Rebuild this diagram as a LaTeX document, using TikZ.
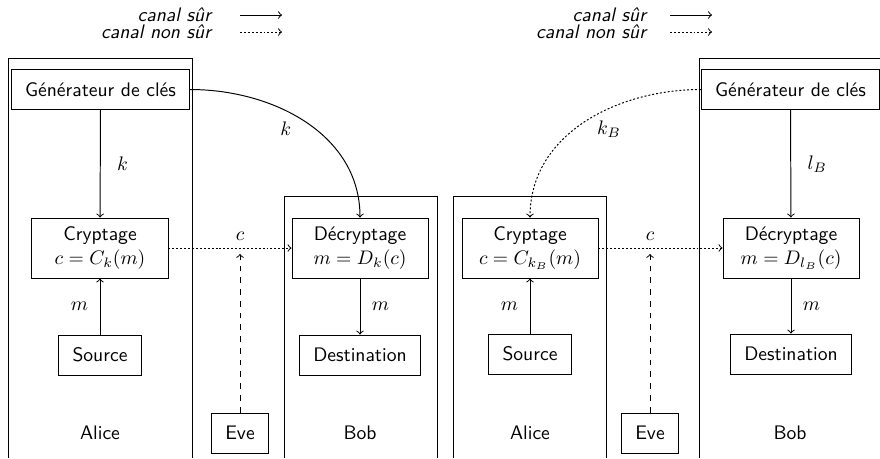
\documentclass[tikz,border=0pt]{standalone}
\usepackage{amsmath}
\usetikzlibrary{positioning}

\begin{document}
\begin{tikzpicture}[x=0.5102pt, y=-0.5102pt, line width=0.5pt,
        every node/.style ={align=center, font=\sffamily},
        Box/.style   ={draw, inner xsep=7pt, inner ysep=4pt, minimum height=20.4pt},
        Calc/.style  ={Box, minimum width=69.4pt, minimum height=30.6pt},
        Legend/.style={anchor=east, font=\sffamily\itshape},
        safe/.style  ={->},
        unsafe/.style={->, dash pattern=on 1pt off 1pt},
        spy/.style   ={->, dashed, shorten >=3pt},
    ]
\clip (0,0) rectangle (880,458);

% Legend
\node[Legend] (safeL) at (218,15) {canal sûr};
\node[Legend] (unsafeL) at (218,32) {canal non sûr};
\coordinate (safeLa) at (240,15);   \coordinate (safeLb) at (282,15);
\coordinate (unsafeLa) at (240,32); \coordinate (unsafeLb) at (282,32);
\draw[safe] (safeLa) -- (safeLb);
\draw[unsafe] (unsafeLa) -- (unsafeLb);

\node[Legend] (safeR) at (653,15) {canal sûr};
\node[Legend] (unsafeR) at (653,32) {canal non sûr};
\coordinate (safeRa) at (670,15);   \coordinate (safeRb) at (712,15);
\coordinate (unsafeRa) at (670,32); \coordinate (unsafeRb) at (712,32);
\draw[safe] (safeRa) -- (safeRb);
\draw[unsafe] (unsafeRa) -- (unsafeRb);

% Frames
\draw (8,458) |- (192,58) -- (192,458);
\draw (284,458) |- (437,196) -- (437,458);
\draw (453,458) |- (606,196) -- (606,458);
\draw (699,458) |- (890,58) -- (890,458);

% Nodes, symmetric key
\node[Box] (genL) at (100.5,89.5) {Générateur de clés};
\node[Calc] (cryptL) at (100,248) {Cryptage\\ $c=C_k(m)$};
\node[Box, below=28.6pt of cryptL] (srcL) {Source};
\node[Calc] (decL) at (360,248) {Décryptage\\ $m=D_k(c)$};
\node[Box, below=28.6pt of decL] (destL) {Destination};
\node[Box] (eveL) at (240,433) {Eve};
\node (aliceL) at (100,433) {Alice};
\node (bobL) at (360,433) {Bob};
\coordinate (tapL) at (eveL |- cryptL.east);

% Nodes, public key
\node[Box] (genR) at (790.5,89.5) {Générateur de clés};
\node[Calc] (cryptR) at (530,248) {Cryptage\\ $c=C_{k_B}(m)$};
\node[Box, below=28.1pt of cryptR] (srcR) {Source};
\node[Calc] (decR) at (791,248) {Décryptage\\ $m=D_{l_B}(c)$};
\node[Box, below=28.1pt of decR] (destR) {Destination};
\node[Box] (eveR) at (650,433) {Eve};
\node (aliceR) at (530,433) {Alice};
\node (bobR) at (790,433) {Bob};
\coordinate (tapR) at (eveR |- cryptR.east);

% Arrows
\draw[safe] (genL) -- node[right=5pt] {$k$} (cryptL);
\draw[safe] (srcL) -- node[left=2.5pt] {$m$} (cryptL);
\draw[safe] (decL) -- node[right=2.5pt] {$m$} (destL);
\draw[safe] (genL.east) to[out=0, in=90] node[pos=0.4, below=2pt] {$k$} (decL.north);
\draw[unsafe] (cryptL) -- (tapL) node[above] {$c$} -- (decL);
\draw[spy] (eveL) -- (tapL);

\draw[safe] (genR) -- node[right=5pt] {$l_B$} (decR);
\draw[safe] (srcR) -- node[left=2.5pt] {$m$} (cryptR);
\draw[safe] (decR) -- node[right=2.5pt] {$m$} (destR);
\draw[unsafe] (genR.west) to[out=180, in=90] node[pos=0.38, below=3pt] {$k_B$} (cryptR.north);
\draw[unsafe] (cryptR) -- (tapR) node[above] {$c$} -- (decR);
\draw[spy] (eveR) -- (tapR);

\end{tikzpicture}
\end{document}
